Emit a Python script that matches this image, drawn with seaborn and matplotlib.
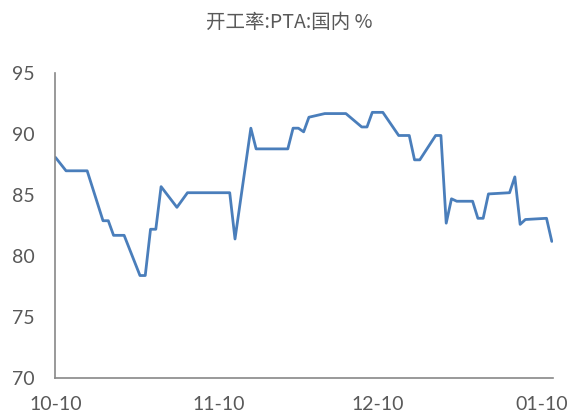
import pandas as pd
import matplotlib
matplotlib.use('Agg')
import matplotlib.pyplot as plt
import matplotlib.dates as mdates
import seaborn as sns

dates = ['2020-10-10', '2020-10-12', '2020-10-16', '2020-10-19', '2020-10-20',
         '2020-10-21', '2020-10-23', '2020-10-26', '2020-10-27', '2020-10-28',
         '2020-10-29', '2020-10-30', '2020-11-02', '2020-11-04', '2020-11-12',
         '2020-11-13', '2020-11-16', '2020-11-17', '2020-11-23', '2020-11-24',
         '2020-11-25', '2020-11-26', '2020-11-27', '2020-11-30', '2020-12-04',
         '2020-12-07', '2020-12-08', '2020-12-09', '2020-12-11', '2020-12-14',
         '2020-12-16', '2020-12-17', '2020-12-18', '2020-12-21', '2020-12-22',
         '2020-12-23', '2020-12-24', '2020-12-25', '2020-12-28', '2020-12-29',
         '2020-12-30', '2020-12-31', '2021-01-04', '2021-01-05', '2021-01-06',
         '2021-01-07', '2021-01-11', '2021-01-12']
rate = [88.1, 87.0, 87.0, 82.9, 82.9,
        81.7, 81.7, 78.4, 78.4, 82.2,
        82.2, 85.7, 84.0, 85.2, 85.2,
        81.4, 90.5, 88.8, 88.8, 90.5,
        90.5, 90.2, 91.4, 91.7, 91.7,
        90.6, 90.6, 91.8, 91.8, 89.9,
        89.9, 87.9, 87.9, 89.9, 89.9,
        82.7, 84.7, 84.5, 84.5, 83.1,
        83.1, 85.1, 85.2, 86.5, 82.6,
        83.0, 83.1, 81.2]
tick_dates = ['2020-10-10', '2020-11-10', '2020-12-10', '2021-01-10']
y_ticks = [70, 75, 80, 85, 90, 95]
title = '开工率:PTA:国内 %'

df = pd.DataFrame({'date': pd.to_datetime(dates), 'rate': rate})

sns.set_style('white')
plt.rcParams['font.family'] = ['Lato', 'Noto Sans CJK SC', 'DejaVu Sans']

fig = plt.figure(figsize=(5.72, 4.17), dpi=100)
ax = fig.add_axes([0.097, 0.094, 0.870, 0.730])

sns.lineplot(data=df, x='date', y='rate', ax=ax, color='#4a7ebb', linewidth=2.0)

ax.set_ylim(70, 95)
ax.set_yticks(y_ticks)
ax.set_xlim(pd.Timestamp('2020-10-10'), pd.Timestamp('2021-01-12 06:00'))
ax.set_xticks(pd.to_datetime(tick_dates))
ax.xaxis.set_major_formatter(mdates.DateFormatter('%m-%d'))
ax.set_xlabel('')
ax.set_ylabel('')

for side in ['top', 'right']:
    ax.spines[side].set_visible(False)
for side in ['left', 'bottom']:
    ax.spines[side].set_color('#888888')
    ax.spines[side].set_linewidth(1.2)

ax.tick_params(axis='both', which='major', direction='out', length=5, width=1.2,
               color='#888888', labelcolor='#595959', labelsize=14, pad=8)
ax.tick_params(axis='y', pad=10)

# title has wide character spacing in the original
fig.text(0.505, 0.945, title, ha='center', va='center', fontsize=14,
         color='#595959', family=['Noto Sans CJK SC', 'DejaVu Sans'])

fig.savefig('out.png', dpi=100)
